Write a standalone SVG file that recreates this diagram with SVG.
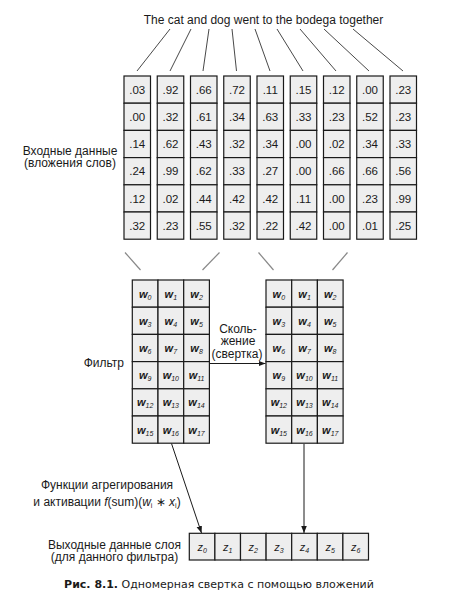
<svg xmlns="http://www.w3.org/2000/svg" width="450" height="606" viewBox="0 0 450 606">
<style>
text{font-family:"Liberation Sans",Arial,sans-serif;fill:#1a1a1a}
.lbl{font-size:12px}
.num{font-size:11.5px;text-anchor:middle}
.w{font-size:11px;font-style:italic;font-weight:bold;text-anchor:middle}
.sub{font-size:7px;font-weight:normal}
.cell{fill:#eeeeee;stroke:#1a1a1a;stroke-width:1.2}
.ln{stroke:#333;stroke-width:0.9;fill:none}
.gl{stroke:#888;stroke-width:1.2;fill:none}
.ar{stroke:#1a1a1a;stroke-width:1;fill:none}
</style>
<defs>
<marker id="ah" viewBox="0 0 10 10" refX="10" refY="5" markerWidth="7" markerHeight="7" orient="auto" markerUnits="userSpaceOnUse">
<path d="M0,1 L10,5 L0,9 z" fill="#1a1a1a"/>
</marker>
<g id="col">
<rect class="cell" x="0" y="0" width="26.5" height="27.2"/>
<rect class="cell" x="0" y="27.2" width="26.5" height="27.2"/>
<rect class="cell" x="0" y="54.4" width="26.5" height="27.2"/>
<rect class="cell" x="0" y="81.6" width="26.5" height="27.2"/>
<rect class="cell" x="0" y="108.8" width="26.5" height="27.2"/>
<rect class="cell" x="0" y="136" width="26.5" height="27.2"/>
</g>
<g id="fgrid">
<rect class="cell" x="0" y="0" width="25.7" height="27.2"/><rect class="cell" x="25.7" y="0" width="25.7" height="27.2"/><rect class="cell" x="51.4" y="0" width="25.7" height="27.2"/>
<rect class="cell" x="0" y="27.2" width="25.7" height="27.2"/><rect class="cell" x="25.7" y="27.2" width="25.7" height="27.2"/><rect class="cell" x="51.4" y="27.2" width="25.7" height="27.2"/>
<rect class="cell" x="0" y="54.4" width="25.7" height="27.2"/><rect class="cell" x="25.7" y="54.4" width="25.7" height="27.2"/><rect class="cell" x="51.4" y="54.4" width="25.7" height="27.2"/>
<rect class="cell" x="0" y="81.6" width="25.7" height="27.2"/><rect class="cell" x="25.7" y="81.6" width="25.7" height="27.2"/><rect class="cell" x="51.4" y="81.6" width="25.7" height="27.2"/>
<rect class="cell" x="0" y="108.8" width="25.7" height="27.2"/><rect class="cell" x="25.7" y="108.8" width="25.7" height="27.2"/><rect class="cell" x="51.4" y="108.8" width="25.7" height="27.2"/>
<rect class="cell" x="0" y="136" width="25.7" height="27.2"/><rect class="cell" x="25.7" y="136" width="25.7" height="27.2"/><rect class="cell" x="51.4" y="136" width="25.7" height="27.2"/>
<text class="w" x="12.85" y="17.5">w<tspan class="sub" dy="2">0</tspan></text>
<text class="w" x="38.55" y="17.5">w<tspan class="sub" dy="2">1</tspan></text>
<text class="w" x="64.25" y="17.5">w<tspan class="sub" dy="2">2</tspan></text>
<text class="w" x="12.85" y="44.7">w<tspan class="sub" dy="2">3</tspan></text>
<text class="w" x="38.55" y="44.7">w<tspan class="sub" dy="2">4</tspan></text>
<text class="w" x="64.25" y="44.7">w<tspan class="sub" dy="2">5</tspan></text>
<text class="w" x="12.85" y="71.9">w<tspan class="sub" dy="2">6</tspan></text>
<text class="w" x="38.55" y="71.9">w<tspan class="sub" dy="2">7</tspan></text>
<text class="w" x="64.25" y="71.9">w<tspan class="sub" dy="2">8</tspan></text>
<text class="w" x="12.85" y="99.1">w<tspan class="sub" dy="2">9</tspan></text>
<text class="w" x="38.55" y="99.1">w<tspan class="sub" dy="2">10</tspan></text>
<text class="w" x="64.25" y="99.1">w<tspan class="sub" dy="2">11</tspan></text>
<text class="w" x="12.85" y="126.3">w<tspan class="sub" dy="2">12</tspan></text>
<text class="w" x="38.55" y="126.3">w<tspan class="sub" dy="2">13</tspan></text>
<text class="w" x="64.25" y="126.3">w<tspan class="sub" dy="2">14</tspan></text>
<text class="w" x="12.85" y="153.5">w<tspan class="sub" dy="2">15</tspan></text>
<text class="w" x="38.55" y="153.5">w<tspan class="sub" dy="2">16</tspan></text>
<text class="w" x="64.25" y="153.5">w<tspan class="sub" dy="2">17</tspan></text>
</g>
</defs>
<rect width="450" height="606" fill="#fff"/>

<g id="sentence"><text class="lbl" x="263.5" y="24" text-anchor="middle">The cat and dog went to the bodega together</text></g>

<g id="connectors">
<line class="ln" x1="170" y1="29" x2="137" y2="71"/>
<line class="ln" x1="191" y1="29" x2="170" y2="71"/>
<line class="ln" x1="209" y1="29" x2="203" y2="71"/>
<line class="ln" x1="232" y1="29" x2="236.5" y2="71"/>
<line class="ln" x1="255" y1="29" x2="270" y2="71"/>
<line class="ln" x1="277" y1="29" x2="303" y2="71"/>
<line class="ln" x1="300" y1="29" x2="336" y2="71"/>
<line class="ln" x1="324" y1="29" x2="369" y2="71"/>
<line class="ln" x1="353" y1="29" x2="403" y2="71"/>
<line class="gl" x1="125" y1="252.5" x2="140.5" y2="270"/>
<line class="gl" x1="219.5" y1="252.5" x2="202.5" y2="270"/>
<line class="gl" x1="258.5" y1="252.5" x2="273.5" y2="270"/>
<line class="gl" x1="347.5" y1="252.5" x2="332.5" y2="270"/>
<line class="ar" x1="209.5" y1="363.5" x2="265.5" y2="363.5" marker-end="url(#ah)"/>
<line class="ar" x1="171.5" y1="443.5" x2="201.5" y2="533" marker-end="url(#ah)"/>
<line class="ar" x1="304" y1="444" x2="304" y2="533" marker-end="url(#ah)"/>
</g>

<g id="input-label">
<text class="lbl" x="70" y="154.5" text-anchor="middle">Входные данные</text>
<text class="lbl" x="70" y="167" text-anchor="middle">(вложения слов)</text>
</g>

<g id="embeddings">
<use href="#col" x="124" y="76"/>
<use href="#col" x="157.25" y="76"/>
<use href="#col" x="190.5" y="76"/>
<use href="#col" x="223.75" y="76"/>
<use href="#col" x="257" y="76"/>
<use href="#col" x="290.25" y="76"/>
<use href="#col" x="323.5" y="76"/>
<use href="#col" x="356.75" y="76"/>
<use href="#col" x="390" y="76"/>
<g class="nums">
<text class="num" x="137.25" y="93.8">.03</text><text class="num" x="137.25" y="121">.00</text><text class="num" x="137.25" y="148.2">.14</text><text class="num" x="137.25" y="175.4">.24</text><text class="num" x="137.25" y="202.6">.12</text><text class="num" x="137.25" y="229.8">.32</text>
<text class="num" x="170.5" y="93.8">.92</text><text class="num" x="170.5" y="121">.32</text><text class="num" x="170.5" y="148.2">.62</text><text class="num" x="170.5" y="175.4">.99</text><text class="num" x="170.5" y="202.6">.02</text><text class="num" x="170.5" y="229.8">.23</text>
<text class="num" x="203.75" y="93.8">.66</text><text class="num" x="203.75" y="121">.61</text><text class="num" x="203.75" y="148.2">.43</text><text class="num" x="203.75" y="175.4">.62</text><text class="num" x="203.75" y="202.6">.44</text><text class="num" x="203.75" y="229.8">.55</text>
<text class="num" x="237" y="93.8">.72</text><text class="num" x="237" y="121">.34</text><text class="num" x="237" y="148.2">.32</text><text class="num" x="237" y="175.4">.33</text><text class="num" x="237" y="202.6">.42</text><text class="num" x="237" y="229.8">.32</text>
<text class="num" x="270.25" y="93.8">.11</text><text class="num" x="270.25" y="121">.63</text><text class="num" x="270.25" y="148.2">.34</text><text class="num" x="270.25" y="175.4">.27</text><text class="num" x="270.25" y="202.6">.42</text><text class="num" x="270.25" y="229.8">.22</text>
<text class="num" x="303.5" y="93.8">.15</text><text class="num" x="303.5" y="121">.33</text><text class="num" x="303.5" y="148.2">.00</text><text class="num" x="303.5" y="175.4">.00</text><text class="num" x="303.5" y="202.6">.11</text><text class="num" x="303.5" y="229.8">.42</text>
<text class="num" x="336.75" y="93.8">.12</text><text class="num" x="336.75" y="121">.23</text><text class="num" x="336.75" y="148.2">.02</text><text class="num" x="336.75" y="175.4">.66</text><text class="num" x="336.75" y="202.6">.00</text><text class="num" x="336.75" y="229.8">.00</text>
<text class="num" x="370" y="93.8">.00</text><text class="num" x="370" y="121">.52</text><text class="num" x="370" y="148.2">.34</text><text class="num" x="370" y="175.4">.66</text><text class="num" x="370" y="202.6">.23</text><text class="num" x="370" y="229.8">.01</text>
<text class="num" x="403.25" y="93.8">.23</text><text class="num" x="403.25" y="121">.23</text><text class="num" x="403.25" y="148.2">.33</text><text class="num" x="403.25" y="175.4">.56</text><text class="num" x="403.25" y="202.6">.99</text><text class="num" x="403.25" y="229.8">.25</text>
</g>
</g>

<g id="filter-label"><text class="lbl" x="124" y="367" text-anchor="end">Фильтр</text></g>

<g id="filter1">
<use href="#fgrid" x="132.3" y="280"/>
</g>

<g id="slide-label">
<text class="lbl" x="238" y="332.5" text-anchor="middle">Сколь-</text>
<text class="lbl" x="238" y="345" text-anchor="middle">жение</text>
<text class="lbl" x="237" y="357.5" text-anchor="middle">(свертка)</text>
</g>

<g id="filter2">
<use href="#fgrid" x="266" y="280"/>
</g>

<g id="agg-label">
<text class="lbl" x="107" y="489" text-anchor="middle">Функции агрегирования</text>
<text class="lbl" x="107" y="505.5" text-anchor="middle">и активации <tspan font-style="italic">f</tspan>(sum)(<tspan font-style="italic">w</tspan><tspan font-size="7" dy="2">i</tspan><tspan dy="-2"> ∗ </tspan><tspan font-style="italic">x</tspan><tspan font-size="7" dy="2">i</tspan><tspan dy="-2">)</tspan></text>
</g>

<g id="output-label">
<text class="lbl" x="114.5" y="548.5" text-anchor="middle">Выходные данные слоя</text>
<text class="lbl" x="114.5" y="561" text-anchor="middle">(для данного фильтра)</text>
</g>

<g id="output">
<rect class="cell" x="189.3" y="533.3" width="25.6" height="26.7"/>
<rect class="cell" x="214.9" y="533.3" width="25.6" height="26.7"/>
<rect class="cell" x="240.5" y="533.3" width="25.6" height="26.7"/>
<rect class="cell" x="266.1" y="533.3" width="25.6" height="26.7"/>
<rect class="cell" x="291.7" y="533.3" width="25.6" height="26.7"/>
<rect class="cell" x="317.3" y="533.3" width="25.6" height="26.7"/>
<rect class="cell" x="342.9" y="533.3" width="25.6" height="26.7"/>
<text class="w" style="font-weight:normal" x="202.1" y="550.5">z<tspan class="sub" dy="2">0</tspan></text>
<text class="w" style="font-weight:normal" x="227.7" y="550.5">z<tspan class="sub" dy="2">1</tspan></text>
<text class="w" style="font-weight:normal" x="253.3" y="550.5">z<tspan class="sub" dy="2">2</tspan></text>
<text class="w" style="font-weight:normal" x="278.9" y="550.5">z<tspan class="sub" dy="2">3</tspan></text>
<text class="w" style="font-weight:normal" x="304.5" y="550.5">z<tspan class="sub" dy="2">4</tspan></text>
<text class="w" style="font-weight:normal" x="330.1" y="550.5">z<tspan class="sub" dy="2">5</tspan></text>
<text class="w" style="font-weight:normal" x="355.7" y="550.5">z<tspan class="sub" dy="2">6</tspan></text>
</g>

<g id="caption">
<text x="219" y="588" text-anchor="middle" style="font-family:'DejaVu Sans',Verdana,sans-serif;font-size:11px"><tspan font-weight="bold">Рис. 8.1.</tspan> Одномерная свертка с помощью вложений</text>
</g>
</svg>
